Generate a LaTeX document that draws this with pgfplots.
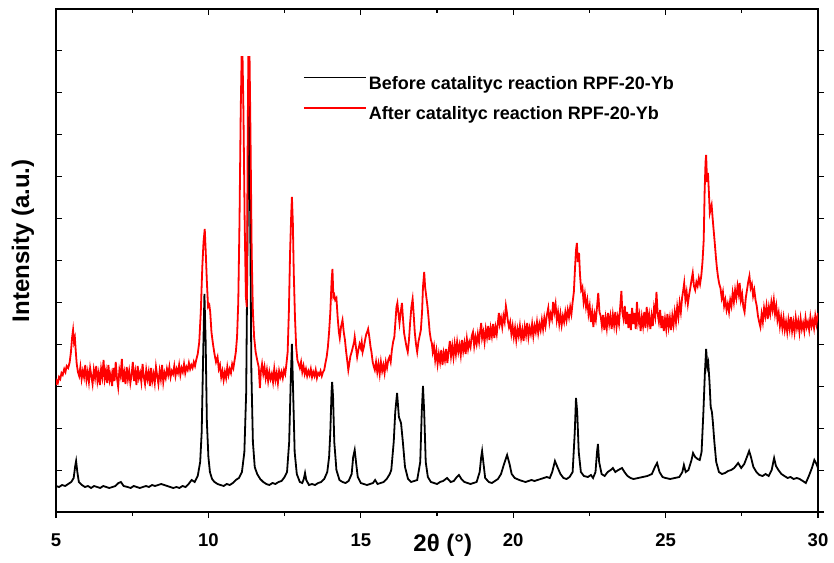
\documentclass[border=0pt]{standalone}
\usepackage{pgfplots}
\pgfplotsset{compat=1.18}
\usepackage{fontspec}
\setmainfont{Liberation Sans}
\begin{document}
\begin{tikzpicture}
\useasboundingbox (-56pt,-50pt) rectangle (778pt,503pt+9pt);
\pgfplotsset{
  common/.style={
    at={(0pt,0pt)}, anchor=south west,
    scale only axis, width=762pt, height=503pt,
    xmin=5, xmax=30, ymin=0, ymax=503,
    xtick={5,10,15,20,25,30}, minor x tick num=1,
    ytick={0,41.917,83.833,125.75,167.667,209.583,251.5,293.417,335.333,377.25,419.167,461.083},
    yticklabels={},
    axis line style={line width=1.2pt},
    major tick length=6pt, minor tick length=4pt,
    every tick/.style={black, line width=1.1pt},
    /pgf/number format/assume math mode=true,
  }
}
% overlay axis: top ticks pointing down, left ticks pointing right
\begin{axis}[common, xtick pos=top, ytick pos=left, tick align=inside, xticklabels={}]
\end{axis}
\begin{axis}[common, xtick pos=bottom, ytick pos=right, tick align=outside,
  xticklabel style={font=\bfseries\fontsize{18.5}{20}\selectfont, anchor=base, yshift=-28pt},
  xlabel={\bfseries\fontsize{24}{28}\selectfont 2θ (°)},
  every axis x label/.style={at={(axis description cs:0.5075,0)}, anchor=base, yshift=-39pt},
  ylabel={\bfseries\fontsize{24}{28}\selectfont Intensity (a.u.)},
  every axis y label/.style={at={(axis description cs:-0.0433,0.539)}, rotate=90, anchor=center},
  legend style={at={(axis cs:13.1,438)}, anchor=north west, draw=none, fill=none,
    inner sep=0pt, font=\bfseries\fontsize{18}{22}\selectfont,
    nodes={inner sep=2pt}, row sep=12pt},
  legend cell align=left,
  legend image code/.code={\draw[#1, line width=1.7pt] (0pt,6pt) -- (62pt,6pt);},
]
\addplot[black, line width=1.8pt] coordinates {
(5.00,26)(5.10,25)(5.20,27)(5.30,26)(5.40,28)(5.50,30)(5.58,34)(5.63,46)(5.66,51)(5.70,40)(5.75,30)(5.85,27)(5.95,25)
(6.05,26)(6.15,24)(6.25,26)(6.35,25)(6.45,24)(6.55,26)(6.65,25)(6.75,24)(6.85,25)(6.95,26)(7.05,29)(7.13,30)(7.22,26)
(7.35,25)(7.45,24)(7.55,26)(7.65,25)(7.75,24)(7.85,25)(7.95,26)(8.05,25)(8.15,27)(8.25,26)(8.35,27)(8.45,28)(8.55,27)
(8.65,26)(8.75,25)(8.85,24)(8.95,25)(9.05,24)(9.15,26)(9.25,25)(9.35,28)(9.45,32)(9.55,30)(9.65,36)(9.73,50)(9.78,80)
(9.83,160)(9.87,218)(9.91,170)(9.95,90)(10.00,55)(10.05,40)(10.12,33)(10.20,30)(10.30,28)(10.40,27)(10.50,26)(10.60,28)
(10.70,27)(10.80,29)(10.90,32)(11.00,34)(11.10,40)(11.18,60)(11.24,120)(11.29,300)(11.33,419)(11.37,300)(11.41,140)
(11.46,70)(11.52,45)(11.60,38)(11.70,33)(11.80,30)(11.90,28)(12.00,27)(12.10,29)(12.20,28)(12.30,30)(12.40,31)(12.50,35)
(12.58,40)(12.65,70)(12.70,130)(12.74,168)(12.78,120)(12.83,60)(12.90,38)(13.00,30)(13.08,29)(13.13,33)(13.17,39)(13.21,32)
(13.30,27)(13.40,28)(13.50,27)(13.60,29)(13.70,30)(13.80,33)(13.90,40)(13.96,55)(14.00,80)(14.04,120)(14.06,130)(14.09,115)
(14.13,70)(14.20,42)(14.30,32)(14.40,30)(14.50,29)(14.60,31)(14.70,38)(14.75,55)(14.80,62)(14.85,48)(14.90,35)(15.00,29)
(15.10,28)(15.20,27)(15.30,28)(15.40,29)(15.47,32)(15.55,28)(15.65,29)(15.75,30)(15.85,33)(15.95,38)(16.00,42)(16.08,70)
(16.13,100)(16.19,119)(16.25,95)(16.32,89)(16.38,70)(16.45,45)(16.55,33)(16.65,30)(16.75,31)(16.85,32)(16.95,50)(17.00,100)
(17.04,126)(17.08,100)(17.13,50)(17.20,35)(17.30,30)(17.40,29)(17.50,28)(17.60,30)(17.70,31)(17.83,34)(17.95,30)(18.05,31)
(18.15,35)(18.22,37)(18.30,33)(18.40,30)(18.50,29)(18.60,28)(18.70,29)(18.80,30)(18.90,40)(18.95,55)(18.98,61)(19.02,50)
(19.08,34)(19.20,30)(19.30,29)(19.40,31)(19.50,33)(19.60,38)(19.70,48)(19.80,57)(19.88,48)(19.95,38)(20.05,34)(20.20,32)
(20.30,31)(20.40,30)(20.50,31)(20.60,32)(20.70,31)(20.80,32)(20.90,33)(21.00,34)(21.10,35)(21.20,34)(21.28,40)(21.37,51)
(21.45,45)(21.55,38)(21.65,34)(21.75,33)(21.85,35)(21.95,40)(22.02,80)(22.06,114)(22.10,100)(22.15,60)(22.22,40)(22.32,36)
(22.45,35)(22.55,37)(22.62,34)(22.70,40)(22.75,60)(22.78,68)(22.82,50)(22.90,38)(23.00,36)(23.10,40)(23.20,42)(23.27,44)
(23.35,40)(23.45,42)(23.57,44)(23.65,40)(23.75,36)(23.85,34)(23.95,33)(24.10,34)(24.25,35)(24.40,36)(24.55,38)(24.65,45)
(24.72,49)(24.80,40)(24.90,35)(25.00,34)(25.15,33)(25.30,34)(25.45,35)(25.55,40)(25.60,47)(25.66,40)(25.75,42)(25.85,52)
(25.90,59)(25.97,55)(26.05,53)(26.12,52)(26.18,60)(26.24,100)(26.29,140)(26.33,163)(26.37,145)(26.40,149)(26.44,130)
(26.48,105)(26.52,100)(26.55,90)(26.60,70)(26.66,50)(26.75,40)(26.85,38)(26.95,39)(27.05,41)(27.15,42)(27.25,44)(27.38,49)
(27.48,44)(27.58,48)(27.68,56)(27.74,61)(27.80,55)(27.88,45)(27.98,40)(28.08,37)(28.18,36)(28.28,38)(28.38,36)(28.48,42)
(28.56,54)(28.62,46)(28.70,42)(28.80,38)(28.90,36)(29.00,34)(29.10,35)(29.20,33)(29.30,34)(29.40,33)(29.50,31)(29.60,29)
(29.70,36)(29.80,44)(29.88,52)(29.95,48)(30.00,44)
};
\addlegendentry{Before catalityc reaction RPF-20-Yb}
\addplot[red, line width=1.8pt] coordinates {
(5.00,127)(5.03,131)(5.06,129)(5.10,135)(5.14,133)(5.18,139)(5.22,137)(5.27,143)(5.31,140)(5.35,146)(5.40,144)(5.45,150)
(5.49,160)(5.53,175)(5.56,182)(5.59,170)(5.62,174)(5.65,160)(5.68,148)(5.72,140)(5.76,136)(5.80,145)(5.84,133)(5.88,141)
(5.92,135)(5.96,147)(6.00,132)(6.04,140)(6.08,130)(6.12,144)(6.16,136)(6.20,128)(6.24,142)(6.28,134)(6.32,146)(6.36,131)
(6.40,139)(6.44,127)(6.48,143)(6.52,135)(6.56,152)(6.60,133)(6.64,141)(6.68,129)(6.72,147)(6.76,132)(6.80,138)(6.84,126)
(6.88,144)(6.92,131)(6.96,150)(7.00,134)(7.04,125)(7.08,142)(7.12,136)(7.16,153)(7.20,130)(7.24,139)(7.28,128)(7.32,145)
(7.36,133)(7.40,141)(7.44,129)(7.48,137)(7.52,150)(7.56,131)(7.60,140)(7.64,127)(7.68,146)(7.72,134)(7.76,139)(7.80,130)
(7.84,148)(7.88,135)(7.92,128)(7.96,142)(8.00,133)(8.04,140)(8.08,126)(8.12,144)(8.16,131)(8.20,138)(8.24,129)(8.28,145)
(8.32,136)(8.36,128)(8.40,141)(8.44,133)(8.48,147)(8.52,130)(8.56,139)(8.60,134)(8.64,143)(8.68,137)(8.72,145)(8.76,135)
(8.80,141)(8.84,138)(8.88,146)(8.92,136)(8.96,143)(9.00,139)(9.04,147)(9.08,137)(9.12,144)(9.16,140)(9.20,148)(9.24,139)
(9.28,145)(9.32,142)(9.36,149)(9.40,143)(9.44,147)(9.48,144)(9.52,150)(9.56,146)(9.60,152)(9.65,158)(9.70,170)(9.75,200)
(9.80,245)(9.84,270)(9.88,283)(9.91,262)(9.95,230)(9.99,205)(10.03,207)(10.06,200)(10.10,180)(10.15,168)(10.20,158)
(10.25,150)(10.30,155)(10.34,143)(10.38,147)(10.42,135)(10.46,141)(10.50,132)(10.54,140)(10.58,134)(10.62,145)(10.66,137)
(10.70,143)(10.74,139)(10.78,148)(10.82,144)(10.86,152)(10.90,160)(10.94,175)(10.98,210)(11.02,290)(11.06,400)(11.09,455)
(11.12,455)(11.15,400)(11.19,290)(11.23,215)(11.26,205)(11.29,380)(11.31,455)(11.35,455)(11.38,380)(11.42,260)(11.46,200)
(11.50,175)(11.55,160)(11.60,152)(11.65,145)(11.69,124)(11.72,140)(11.76,148)(11.80,138)(11.84,145)(11.88,134)(11.92,142)
(11.96,131)(12.00,140)(12.04,133)(12.08,138)(12.12,130)(12.16,143)(12.20,132)(12.24,139)(12.28,129)(12.32,141)(12.36,135)
(12.40,140)(12.44,134)(12.48,142)(12.52,138)(12.56,148)(12.60,160)(12.64,200)(12.68,260)(12.72,300)(12.74,315)(12.77,290)
(12.80,240)(12.84,195)(12.88,165)(12.92,152)(12.96,148)(13.00,144)(13.04,150)(13.08,140)(13.12,146)(13.16,138)(13.20,143)
(13.24,136)(13.28,141)(13.32,137)(13.36,143)(13.40,135)(13.44,140)(13.48,136)(13.52,142)(13.56,134)(13.60,139)(13.64,137)
(13.68,141)(13.72,136)(13.76,140)(13.80,142)(13.84,149)(13.88,155)(13.92,165)(13.96,180)(14.00,200)(14.04,230)(14.07,243)
(14.10,215)(14.13,217)(14.16,212)(14.20,214)(14.24,195)(14.28,180)(14.31,174)(14.35,185)(14.40,192)(14.44,180)(14.48,172)
(14.52,160)(14.56,150)(14.59,142)(14.63,150)(14.66,156)(14.70,160)(14.74,165)(14.78,170)(14.80,175)(14.84,165)(14.88,155)
(14.92,162)(14.96,168)(15.00,164)(15.03,170)(15.06,160)(15.10,165)(15.14,172)(15.18,178)(15.21,180)(15.24,183)(15.28,175)
(15.32,165)(15.35,160)(15.39,150)(15.43,145)(15.46,142)(15.50,150)(15.54,140)(15.58,148)(15.62,138)(15.66,150)(15.70,141)
(15.74,147)(15.78,139)(15.82,150)(15.86,144)(15.90,152)(15.94,155)(15.98,150)(16.02,162)(16.06,170)(16.10,175)(16.14,192)
(16.17,205)(16.20,209)(16.23,200)(16.27,189)(16.31,200)(16.35,209)(16.38,195)(16.42,179)(16.46,172)(16.50,165)(16.54,160)
(16.58,172)(16.62,190)(16.66,205)(16.70,213)(16.73,200)(16.77,180)(16.81,168)(16.85,160)(16.89,170)(16.93,176)(16.97,182)
(17.01,200)(17.04,225)(17.08,240)(17.11,225)(17.15,215)(17.19,205)(17.22,195)(17.26,180)(17.30,172)(17.33,169)(17.36,160)
(17.40,166)(17.44,152)(17.48,161)(17.52,148)(17.56,158)(17.60,150)(17.64,162)(17.68,147)(17.72,159)(17.76,152)(17.80,163)
(17.84,149)(17.88,160)(17.92,171)(17.96,156)(18.00,166)(18.04,155)(18.08,168)(18.12,158)(18.16,170)(18.20,160)(18.24,167)
(18.28,157)(18.32,172)(18.36,161)(18.40,169)(18.44,158)(18.48,173)(18.52,163)(18.56,170)(18.60,165)(18.64,176)(18.68,180)
(18.72,166)(18.76,175)(18.80,168)(18.84,178)(18.88,170)(18.92,182)(18.95,189)(18.98,174)(19.02,180)(19.06,170)(19.10,183)
(19.14,175)(19.18,186)(19.22,172)(19.26,184)(19.30,176)(19.34,188)(19.38,174)(19.42,185)(19.46,178)(19.50,190)(19.53,199)
(19.56,188)(19.60,194)(19.64,185)(19.68,196)(19.72,190)(19.76,206)(19.79,200)(19.82,192)(19.86,185)(19.90,190)(19.94,178)
(19.98,186)(20.02,175)(20.06,184)(20.10,172)(20.14,183)(20.18,176)(20.22,186)(20.26,174)(20.30,182)(20.34,171)(20.38,185)
(20.42,177)(20.46,189)(20.50,175)(20.54,184)(20.58,178)(20.62,188)(20.66,176)(20.70,186)(20.74,180)(20.78,190)(20.82,179)
(20.86,188)(20.90,182)(20.94,192)(20.98,183)(21.02,194)(21.06,186)(21.10,196)(21.15,204)(21.19,190)(21.23,198)(21.27,193)
(21.31,210)(21.35,200)(21.39,208)(21.43,192)(21.47,200)(21.51,188)(21.55,198)(21.59,187)(21.63,196)(21.67,190)(21.71,200)
(21.75,192)(21.79,202)(21.83,195)(21.87,205)(21.91,198)(21.95,210)(21.99,220)(22.03,245)(22.06,262)(22.09,269)(22.12,250)
(22.16,259)(22.19,238)(22.23,222)(22.27,225)(22.31,210)(22.35,218)(22.39,205)(22.43,212)(22.47,198)(22.51,206)(22.55,190)
(22.59,200)(22.63,185)(22.67,198)(22.71,192)(22.75,205)(22.79,219)(22.83,200)(22.87,196)(22.91,186)(22.95,197)(22.99,182)
(23.03,194)(23.07,184)(23.11,199)(23.15,188)(23.19,196)(23.23,183)(23.27,197)(23.31,187)(23.35,200)(23.39,185)(23.43,195)
(23.47,188)(23.51,205)(23.55,221)(23.58,200)(23.62,193)(23.66,206)(23.70,188)(23.74,200)(23.78,184)(23.82,198)(23.86,182)
(23.90,204)(23.94,188)(23.98,199)(24.02,183)(24.06,210)(24.10,190)(24.14,197)(24.18,181)(24.22,195)(24.26,186)(24.30,200)
(24.34,184)(24.38,205)(24.42,188)(24.46,197)(24.50,183)(24.54,196)(24.58,186)(24.62,204)(24.66,196)(24.70,220)(24.74,198)
(24.78,190)(24.82,202)(24.86,184)(24.90,196)(24.94,181)(24.98,193)(25.02,183)(25.06,198)(25.10,185)(25.14,194)(25.18,182)
(25.22,196)(25.26,187)(25.30,200)(25.34,190)(25.38,205)(25.42,195)(25.46,209)(25.50,200)(25.54,214)(25.58,222)(25.61,229)
(25.65,212)(25.69,220)(25.73,208)(25.77,217)(25.81,224)(25.85,232)(25.89,239)(25.93,226)(25.97,222)(26.01,230)(26.05,226)
(26.09,234)(26.13,228)(26.17,236)(26.21,250)(26.25,272)(26.28,320)(26.31,350)(26.33,357)(26.36,330)(26.39,339)(26.42,320)
(26.45,299)(26.48,303)(26.51,307)(26.54,295)(26.57,284)(26.61,270)(26.65,255)(26.68,245)(26.72,235)(26.76,228)(26.80,224)
(26.84,214)(26.88,220)(26.92,206)(26.96,212)(27.00,202)(27.04,208)(27.08,200)(27.12,212)(27.16,206)(27.20,219)(27.24,210)
(27.28,222)(27.32,214)(27.36,226)(27.40,218)(27.43,229)(27.47,212)(27.51,218)(27.55,205)(27.59,200)(27.63,214)(27.67,222)
(27.71,230)(27.75,236)(27.79,224)(27.83,228)(27.87,216)(27.91,222)(27.95,212)(27.99,206)(28.03,196)(28.07,190)(28.11,185)
(28.15,198)(28.19,190)(28.23,204)(28.27,196)(28.31,206)(28.35,193)(28.39,205)(28.43,198)(28.47,210)(28.51,202)(28.55,212)
(28.59,198)(28.63,206)(28.67,192)(28.71,199)(28.75,186)(28.79,195)(28.83,184)(28.87,194)(28.91,182)(28.95,190)(28.99,180)
(29.03,192)(29.07,183)(29.11,195)(29.15,181)(29.19,190)(29.23,180)(29.27,194)(29.31,184)(29.35,191)(29.39,180)(29.43,193)
(29.47,183)(29.51,189)(29.55,181)(29.59,194)(29.63,185)(29.67,190)(29.71,182)(29.75,195)(29.79,186)(29.83,192)(29.87,184)
(29.91,196)(29.95,188)(30.00,199)
};
\addlegendentry{After catalityc reaction RPF-20-Yb}
\end{axis}
\end{tikzpicture}
\end{document}
